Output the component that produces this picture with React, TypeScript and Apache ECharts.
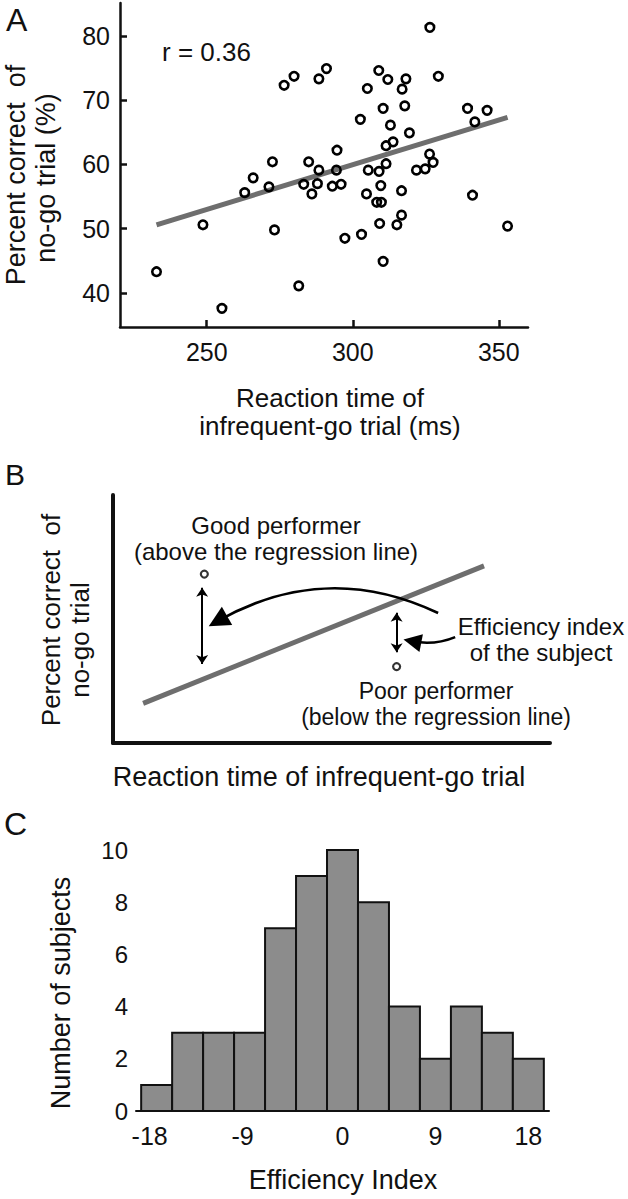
import React, { useEffect, useRef } from 'react';
import * as echarts from 'echarts';

// ---------- Panel A data ----------
const rtValues = [
  232.8, 248.7, 255.2, 263.0, 265.9, 271.3, 272.5, 273.2, 276.5, 279.9, 281.5,
  326.4, 291.0, 288.4, 308.9, 312.0, 318.2, 329.3, 305.0, 316.9, 310.4, 317.8,
  302.6, 339.3, 346.0, 341.8, 312.9, 319.4, 313.8, 311.4, 294.6, 284.9, 288.4,
  294.4, 305.3, 309.0, 311.4, 321.8, 324.8, 326.3, 327.5, 283.2, 287.9, 286.0,
  293.0, 296.0, 309.6, 304.7, 316.7, 308.2, 309.8, 341.0, 316.7, 315.1, 309.2,
  303.0, 297.3, 353.0, 310.4,
];
const pctValues = [
  43.3, 50.6, 37.6, 55.6, 57.9, 56.5, 60.4, 49.8, 72.3, 73.7, 41.1,
  81.3, 74.9, 73.3, 74.6, 73.2, 73.3, 73.7, 71.8, 71.7, 68.7, 69.1,
  67.0, 68.7, 68.4, 66.6, 66.1, 64.9, 63.5, 62.9, 62.2, 60.4, 59.1,
  59.1, 59.1, 58.9, 60.1, 59.1, 59.3, 61.6, 60.3, 56.9, 57.0, 55.4,
  56.6, 56.9, 56.7, 55.4, 55.9, 54.1, 54.1, 55.2, 52.1, 50.6, 50.8,
  49.1, 48.5, 50.4, 44.9,
];
const regressionA = [
  [232.8, 50.6],
  [353.0, 67.3],
];
const xTicksA = [250, 300, 350];
const yTicksA = [40, 50, 60, 70, 80];

// ---------- Panel B (schematic, arbitrary 0-100 units) ----------
const schemaLine = [
  [6.9, 16.0],
  [84.9, 71.4],
];
const goodPoint = [20.9, 68.1];
const poorPoint = [64.9, 30.8];
const goodArrow = [
  [20.4, 62.6],
  [20.4, 31.9],
];
const poorArrow = [
  [64.9, 52.5],
  [64.9, 36.6],
];
const curvedArrow = [
  [74.4, 52.4],
  [24.0, 49.2],
];
const shortArrow = [
  [78.3, 42.7],
  [68.5, 41.0],
];

// ---------- Panel C data ----------
const binCenters = [-18, -15, -12, -9, -6, -3, 0, 3, 6, 9, 12, 15, 18];
const binCounts = [1, 3, 3, 3, 7, 9, 10, 8, 4, 2, 4, 3, 2];
const binWidth = 3;
const xTicksC = [-18, -9, 0, 9, 18];

const FONT = '"Liberation Sans", Arial, Helvetica, sans-serif';
const INK = '#111';
const GRAY = '#6e6e6e';

function txt(text: string, x: number, y: number, size: number, opts: any = {}) {
  return {
    type: 'text',
    x,
    y,
    rotation: opts.rotation || 0,
    style: {
      text,
      fill: INK,
      fontSize: size,
      fontFamily: FONT,
      lineHeight: opts.lineHeight || undefined,
      align: opts.align || 'center',
      verticalAlign: 'middle',
      textAlign: opts.align || 'center',
      textVerticalAlign: 'middle',
    },
  };
}

export default function App() {
  const ref = useRef<HTMLDivElement>(null);

  useEffect(() => {
    if (!ref.current) return;
    const chart = echarts.init(ref.current, null, { renderer: 'svg' });

    const baseLabel = { color: INK, fontFamily: FONT };

    const option: any = {
      animation: false,
      backgroundColor: '#fff',
      grid: [
        { left: 120, top: 3, width: 408, height: 324 },
        { left: 113, top: 495, width: 437, height: 248 },
        { left: 136, top: 850, width: 413, height: 261 },
      ],
      xAxis: [
        {
          type: 'value',
          gridIndex: 0,
          min: 220.3,
          max: 360,
          splitLine: { show: false },
          axisLine: { lineStyle: { color: INK, width: 2.5 } },
          axisTick: { show: true, inside: true, length: 7, customValues: xTicksA, lineStyle: { color: INK, width: 2.5 } },
          axisLabel: { ...baseLabel, fontSize: 25, margin: 12, customValues: xTicksA },
        },
        {
          type: 'value',
          gridIndex: 1,
          min: 0,
          max: 100,
          splitLine: { show: false },
          axisLine: { lineStyle: { color: INK, width: 4 } },
          axisTick: { show: false },
          axisLabel: { show: false },
        },
        {
          type: 'value',
          gridIndex: 2,
          min: -20,
          max: 20,
          splitLine: { show: false },
          axisLine: { lineStyle: { color: INK, width: 2 } },
          axisTick: { show: false },
          axisLabel: {
            ...baseLabel,
            fontSize: 25,
            margin: 12,
            customValues: xTicksC,
            formatter: (v: number) => (v < 0 ? '{neg|' + v + '}' : '{pos|' + v + '}'),
            rich: {
              neg: { fontSize: 25, fontFamily: FONT, color: INK, padding: [0, 14, 0, 0] },
              pos: { fontSize: 25, fontFamily: FONT, color: INK },
            },
          },
        },
      ],
      yAxis: [
        {
          type: 'value',
          gridIndex: 0,
          min: 34.7,
          max: 85.1,
          splitLine: { show: false },
          axisLine: { lineStyle: { color: INK, width: 2.5 } },
          axisTick: { show: true, inside: true, length: 7, customValues: yTicksA, lineStyle: { color: INK, width: 2.5 } },
          axisLabel: { ...baseLabel, fontSize: 25, margin: 10, customValues: yTicksA },
        },
        {
          type: 'value',
          gridIndex: 1,
          min: 0,
          max: 100,
          splitLine: { show: false },
          axisLine: { lineStyle: { color: INK, width: 4 } },
          axisTick: { show: false },
          axisLabel: { show: false },
        },
        {
          type: 'value',
          gridIndex: 2,
          min: 0,
          max: 10,
          interval: 2,
          splitLine: { show: false },
          axisLine: { lineStyle: { color: INK, width: 2 } },
          axisTick: { show: true, inside: true, length: 10, lineStyle: { color: INK, width: 2 } },
          axisLabel: { ...baseLabel, fontSize: 24, margin: 8 },
        },
      ],
      series: [
        // Panel A regression line
        {
          type: 'line',
          xAxisIndex: 0,
          yAxisIndex: 0,
          data: regressionA,
          showSymbol: false,
          symbol: 'none',
          lineStyle: { color: GRAY, width: 5 },
          z: 2,
        },
        // Panel A scatter
        {
          type: 'scatter',
          xAxisIndex: 0,
          yAxisIndex: 0,
          data: rtValues.map((x, i) => [x, pctValues[i]]),
          symbol: 'circle',
          symbolSize: 8.5,
          itemStyle: { color: 'rgba(0,0,0,0)', borderColor: '#000', borderWidth: 2.6, opacity: 1 },
          z: 3,
        },
        // Panel B regression line
        {
          type: 'line',
          xAxisIndex: 1,
          yAxisIndex: 1,
          data: schemaLine,
          showSymbol: false,
          symbol: 'none',
          lineStyle: { color: GRAY, width: 5 },
          z: 2,
        },
        // Panel B points
        {
          type: 'scatter',
          xAxisIndex: 1,
          yAxisIndex: 1,
          data: [goodPoint, poorPoint],
          symbol: 'circle',
          symbolSize: 7,
          itemStyle: { color: '#fff', borderColor: '#000', borderWidth: 2.2 },
          z: 3,
        },
        // Panel B double arrows
        {
          type: 'lines',
          coordinateSystem: 'cartesian2d',
          xAxisIndex: 1,
          yAxisIndex: 1,
          symbol: ['arrow', 'arrow'],
          symbolSize: 9,
          lineStyle: { color: '#000', width: 2, opacity: 1 },
          data: [{ coords: goodArrow }, { coords: poorArrow }],
          z: 4,
        },
        // Panel B curved arrow
        {
          type: 'lines',
          coordinateSystem: 'cartesian2d',
          xAxisIndex: 1,
          yAxisIndex: 1,
          symbol: ['none', 'triangle'],
          symbolSize: 21,
          lineStyle: { color: '#000', width: 2.6, opacity: 1, curveness: -0.26 },
          data: [{ coords: curvedArrow }],
          z: 4,
        },
        // Panel B short arrow
        {
          type: 'lines',
          coordinateSystem: 'cartesian2d',
          xAxisIndex: 1,
          yAxisIndex: 1,
          symbol: ['none', 'triangle'],
          symbolSize: 18,
          lineStyle: { color: '#000', width: 2.6, opacity: 1, curveness: 0.15 },
          data: [{ coords: shortArrow }],
          z: 4,
        },
        // Panel C histogram
        {
          type: 'custom',
          xAxisIndex: 2,
          yAxisIndex: 2,
          data: binCenters.map((c, i) => [c, binCounts[i]]),
          encode: { x: 0, y: 1 },
          renderItem: (params: any, api: any) => {
            const c = api.value(0);
            const n = api.value(1);
            const p0 = api.coord([c - binWidth / 2, n]);
            const p1 = api.coord([c + binWidth / 2, 0]);
            return {
              type: 'rect',
              shape: { x: p0[0], y: p0[1], width: p1[0] - p0[0], height: p1[1] - p0[1] },
              style: { fill: '#8c8c8c', stroke: '#111', lineWidth: 2 },
            };
          },
          z: 3,
        },
      ],
      graphic: [
        txt('A', 6, 20, 32, { align: 'left' }),
        txt('B', 5, 474, 30, { align: 'left' }),
        txt('C', 4, 824, 32, { align: 'left' }),
        txt('r = 0.36', 162, 52, 26, { align: 'left' }),
        txt('Percent correct  of', 16, 175, 27, { rotation: Math.PI / 2 }),
        txt('no-go trial (%)', 46, 178, 27, { rotation: Math.PI / 2 }),
        txt('Reaction time of\ninfrequent-go trial (ms)', 330, 412, 26, { lineHeight: 28 }),
        txt('Percent correct  of', 51, 620, 26, { rotation: Math.PI / 2 }),
        txt('no-go trial', 80, 640, 26, { rotation: Math.PI / 2 }),
        txt('Good performer\n(above the regression line)', 276, 538, 24, { lineHeight: 26 }),
        txt('Efficiency index\nof the subject', 541, 639, 24, { lineHeight: 26 }),
        txt('Poor performer\n(below the regression line)', 436, 704, 23, { lineHeight: 26 }),
        txt('Reaction time of infrequent-go trial', 319, 777, 27),
        txt('Number of subjects', 61, 993, 27, { rotation: Math.PI / 2 }),
        txt('Efficiency Index', 343, 1180, 27),
      ],
    };

    chart.setOption(option);
    return () => chart.dispose();
  }, []);

  return (
    <div
      ref={ref}
      style={{ position: 'absolute', left: 0, top: 0, width: 628, height: 1199, background: '#fff' }}
    />
  );
}
